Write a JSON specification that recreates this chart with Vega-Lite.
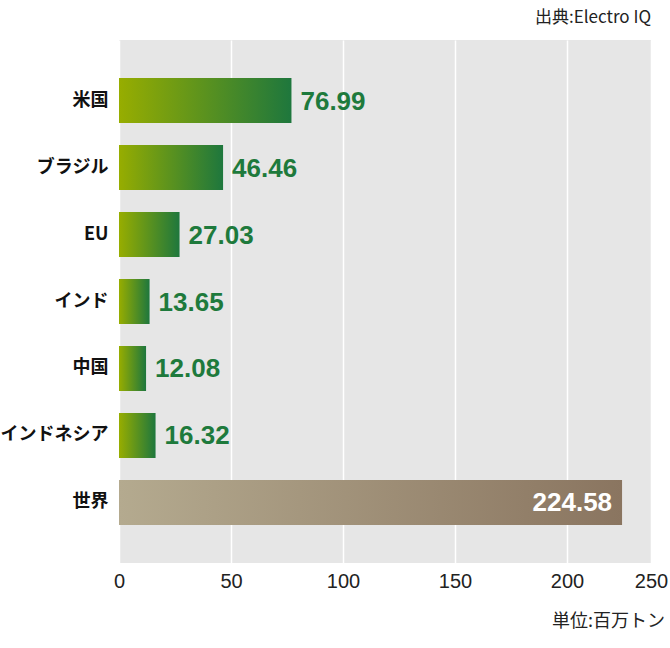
{
  "$schema": "https://vega.github.io/schema/vega-lite/v6.json",
  "width": 532,
  "height": 523,
  "autosize": {"type": "none"},
  "padding": {"left": 119, "top": 40, "right": 19, "bottom": 85},
  "background": "white",
  "view": {"fill": "#e6e6e6", "stroke": null},
  "config": {
    "font": "Noto Sans CJK JP",
    "axis": {"domain": false, "ticks": false, "labelFont": "Noto Sans CJK JP", "labelColor": "#222222", "title": null}
  },
  "datasets": {
    "bars": [
      {"country": "米国", "value": 76.99, "group": "country"},
      {"country": "ブラジル", "value": 46.46, "group": "country"},
      {"country": "EU", "value": 27.03, "group": "country"},
      {"country": "インド", "value": 13.65, "group": "country"},
      {"country": "中国", "value": 12.08, "group": "country"},
      {"country": "インドネシア", "value": 16.32, "group": "country"},
      {"country": "世界", "value": 224.58, "group": "world"}
    ],
    "notes": [
      {"label": "出典:Electro  IQ", "pos": "top"},
      {"label": "単位:百万トン", "pos": "bottom"}
    ]
  },
  "data": {"name": "bars"},
  "layer": [
    {
      "mark": {
        "type": "bar",
        "color": {
          "gradient": "linear",
          "x1": 0, "x2": 1, "y1": 0, "y2": 0,
          "stops": [
            {"offset": 0, "color": "#97ad00"},
            {"offset": 1, "color": "#1e773d"}
          ]
        }
      },
      "transform": [{"filter": "datum.group == 'country'"}],
      "encoding": {
        "y": {
          "field": "country",
          "type": "nominal",
          "sort": ["米国", "ブラジル", "EU", "インド", "中国", "インドネシア", "世界"],
          "scale": {"paddingInner": 0.328, "paddingOuter": 0.567},
          "axis": {"labelFontSize": 18, "labelFontWeight": "bold", "labelColor": "#111111", "labelPadding": 11, "grid": false}
        },
        "x": {
          "field": "value",
          "type": "quantitative",
          "scale": {"domain": [0, 237.5], "nice": false},
          "axis": {
            "values": [0, 50, 100, 150, 200, 237.5],
            "labelExpr": "datum.value > 230 ? '250' : datum.label",
            "labelFont": "Liberation Sans",
            "labelFontSize": 20,
            "labelPadding": 8,
            "labelFlush": false,
            "grid": true,
            "gridColor": "white",
            "gridWidth": 1.5,
            "gridOpacity": 1
          }
        }
      }
    },
    {
      "mark": {
        "type": "bar",
        "color": {
          "gradient": "linear",
          "x1": 0, "x2": 1, "y1": 0, "y2": 0,
          "stops": [
            {"offset": 0, "color": "#b4aa8f"},
            {"offset": 1, "color": "#8a7560"}
          ]
        }
      },
      "transform": [{"filter": "datum.group == 'world'"}],
      "encoding": {
        "y": {"field": "country", "type": "nominal", "sort": ["米国", "ブラジル", "EU", "インド", "中国", "インドネシア", "世界"]},
        "x": {"field": "value", "type": "quantitative"}
      }
    },
    {
      "mark": {"type": "text", "align": "left", "dx": 9, "dy": 1, "font": "Liberation Sans", "fontWeight": "bold", "fontSize": 26, "color": "#1e7a3c"},
      "transform": [{"filter": "datum.group == 'country'"}],
      "encoding": {
        "y": {"field": "country", "type": "nominal", "sort": ["米国", "ブラジル", "EU", "インド", "中国", "インドネシア", "世界"]},
        "x": {"field": "value", "type": "quantitative"},
        "text": {"field": "value", "type": "quantitative", "format": ".2f"}
      }
    },
    {
      "mark": {"type": "text", "align": "right", "dx": -10, "dy": 1, "font": "Liberation Sans", "fontWeight": "bold", "fontSize": 26, "color": "white"},
      "transform": [{"filter": "datum.group == 'world'"}],
      "encoding": {
        "y": {"field": "country", "type": "nominal", "sort": ["米国", "ブラジル", "EU", "インド", "中国", "インドネシア", "世界"]},
        "x": {"field": "value", "type": "quantitative"},
        "text": {"field": "value", "type": "quantitative", "format": ".2f"}
      }
    },
    {
      "data": {"name": "notes"},
      "transform": [{"filter": "datum.pos == 'top'"}],
      "mark": {"type": "text", "align": "right", "baseline": "middle", "fontSize": 17, "letterSpacing": 2, "color": "#222222", "x": 532, "y": -22},
      "encoding": {"text": {"field": "label"}}
    },
    {
      "data": {"name": "notes"},
      "transform": [{"filter": "datum.pos == 'bottom'"}],
      "mark": {"type": "text", "align": "right", "baseline": "middle", "fontSize": 18, "letterSpacing": 2, "color": "#222222", "x": 546, "y": 582},
      "encoding": {"text": {"field": "label"}}
    }
  ]
}
